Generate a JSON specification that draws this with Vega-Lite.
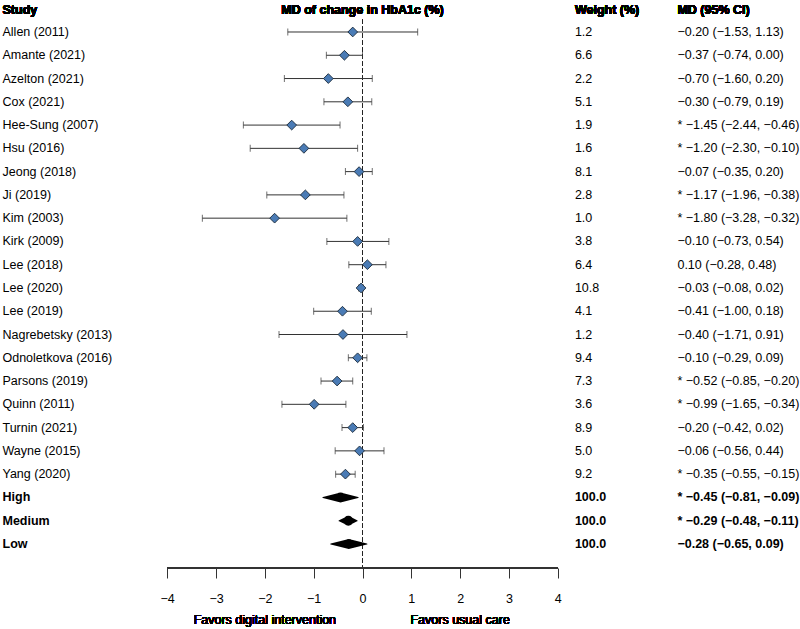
{
  "$schema": "https://vega.github.io/schema/vega-lite/v6.json",
  "width": 800,
  "height": 629,
  "autosize": {"type": "fit", "contains": "padding"},
  "padding": 0,
  "background": "#ffffff",
  "config": {
    "view": {"stroke": null},
    "font": "Liberation Sans",
    "text": {"font": "Liberation Sans", "fontSize": 12.5, "color": "#000000", "baseline": "middle"}
  },
  "data": {
    "values": [
      {"study": "Allen (2011)", "row": 0, "w": 1.2, "est": -0.20, "lo": -1.53, "hi": 1.13, "ci": "−0.20 (−1.53, 1.13)", "kind": "study"},
      {"study": "Amante (2021)", "row": 1, "w": 6.6, "est": -0.37, "lo": -0.74, "hi": 0.00, "ci": "−0.37 (−0.74, 0.00)", "kind": "study"},
      {"study": "Azelton (2021)", "row": 2, "w": 2.2, "est": -0.70, "lo": -1.60, "hi": 0.20, "ci": "−0.70 (−1.60, 0.20)", "kind": "study"},
      {"study": "Cox (2021)", "row": 3, "w": 5.1, "est": -0.30, "lo": -0.79, "hi": 0.19, "ci": "−0.30 (−0.79, 0.19)", "kind": "study"},
      {"study": "Hee-Sung (2007)", "row": 4, "w": 1.9, "est": -1.45, "lo": -2.44, "hi": -0.46, "ci": "* −1.45 (−2.44, −0.46)", "kind": "study"},
      {"study": "Hsu (2016)", "row": 5, "w": 1.6, "est": -1.20, "lo": -2.30, "hi": -0.10, "ci": "* −1.20 (−2.30, −0.10)", "kind": "study"},
      {"study": "Jeong (2018)", "row": 6, "w": 8.1, "est": -0.07, "lo": -0.35, "hi": 0.20, "ci": "−0.07 (−0.35, 0.20)", "kind": "study"},
      {"study": "Ji (2019)", "row": 7, "w": 2.8, "est": -1.17, "lo": -1.96, "hi": -0.38, "ci": "* −1.17 (−1.96, −0.38)", "kind": "study"},
      {"study": "Kim (2003)", "row": 8, "w": 1.0, "est": -1.80, "lo": -3.28, "hi": -0.32, "ci": "* −1.80 (−3.28, −0.32)", "kind": "study"},
      {"study": "Kirk (2009)", "row": 9, "w": 3.8, "est": -0.10, "lo": -0.73, "hi": 0.54, "ci": "−0.10 (−0.73, 0.54)", "kind": "study"},
      {"study": "Lee (2018)", "row": 10, "w": 6.4, "est": 0.10, "lo": -0.28, "hi": 0.48, "ci": "0.10 (−0.28, 0.48)", "kind": "study"},
      {"study": "Lee (2020)", "row": 11, "w": 10.8, "est": -0.03, "lo": -0.08, "hi": 0.02, "ci": "−0.03 (−0.08, 0.02)", "kind": "study"},
      {"study": "Lee (2019)", "row": 12, "w": 4.1, "est": -0.41, "lo": -1.00, "hi": 0.18, "ci": "−0.41 (−1.00, 0.18)", "kind": "study"},
      {"study": "Nagrebetsky (2013)", "row": 13, "w": 1.2, "est": -0.40, "lo": -1.71, "hi": 0.91, "ci": "−0.40 (−1.71, 0.91)", "kind": "study"},
      {"study": "Odnoletkova (2016)", "row": 14, "w": 9.4, "est": -0.10, "lo": -0.29, "hi": 0.09, "ci": "−0.10 (−0.29, 0.09)", "kind": "study"},
      {"study": "Parsons (2019)", "row": 15, "w": 7.3, "est": -0.52, "lo": -0.85, "hi": -0.20, "ci": "* −0.52 (−0.85, −0.20)", "kind": "study"},
      {"study": "Quinn (2011)", "row": 16, "w": 3.6, "est": -0.99, "lo": -1.65, "hi": -0.34, "ci": "* −0.99 (−1.65, −0.34)", "kind": "study"},
      {"study": "Turnin (2021)", "row": 17, "w": 8.9, "est": -0.20, "lo": -0.42, "hi": 0.02, "ci": "−0.20 (−0.42, 0.02)", "kind": "study"},
      {"study": "Wayne (2015)", "row": 18, "w": 5.0, "est": -0.06, "lo": -0.56, "hi": 0.44, "ci": "−0.06 (−0.56, 0.44)", "kind": "study"},
      {"study": "Yang (2020)", "row": 19, "w": 9.2, "est": -0.35, "lo": -0.55, "hi": -0.15, "ci": "* −0.35 (−0.55, −0.15)", "kind": "study"},
      {"study": "High", "row": 20, "w": 100.0, "est": -0.45, "lo": -0.81, "hi": -0.09, "ci": "* −0.45 (−0.81, −0.09)", "kind": "summary"},
      {"study": "Medium", "row": 21, "w": 100.0, "est": -0.29, "lo": -0.48, "hi": -0.11, "ci": "* −0.29 (−0.48, −0.11)", "kind": "summary"},
      {"study": "Low", "row": 22, "w": 100.0, "est": -0.28, "lo": -0.65, "hi": 0.09, "ci": "−0.28 (−0.65, 0.09)", "kind": "summary"}
    ]
  },
  "encoding": {
    "y": {"field": "row", "type": "quantitative", "scale": {"domain": [-1.375, 25.655], "reverse": true, "nice": false, "zero": false}, "axis": null}
  },
  "layer": [
    {
      "mark": {"type": "rule", "color": "#222222", "strokeWidth": 1, "strokeDash": [4, 3]},
      "encoding": {
        "x": {"datum": 0, "type": "quantitative", "scale": {"domain": [-7.424, 8.96], "nice": false, "zero": false},
          "axis": {"values": [-4, -3, -2, -1, 0, 1, 2, 3, 4], "domain": false, "grid": false, "ticks": true, "tickSize": 10, "tickColor": "#333333", "tickWidth": 1, "labelFontSize": 12.5, "labelColor": "#000000", "labelPadding": 14, "labelFont": "Liberation Sans", "labelFlush": false, "title": null, "offset": -61, "orient": "bottom"}},
        "y": {"datum": -0.52, "type": "quantitative"},
        "y2": {"datum": 23.03}
      }
    },
    {
      "mark": {"type": "rule", "color": "#333333", "strokeWidth": 1},
      "encoding": {
        "x": {"datum": -4, "type": "quantitative"},
        "x2": {"datum": 4},
        "y": {"datum": 23.034, "type": "quantitative"}
      }
    },
    {
      "transform": [{"filter": "datum.kind === 'study'"}],
      "mark": {"type": "rule", "color": "#333333", "strokeWidth": 1},
      "encoding": {
        "x": {"field": "lo", "type": "quantitative"},
        "x2": {"field": "hi"}
      }
    },
    {
      "transform": [{"filter": "datum.kind === 'study'"}],
      "mark": {"type": "tick", "orient": "vertical", "color": "#333333", "size": 7, "thickness": 1},
      "encoding": {"x": {"field": "lo", "type": "quantitative"}}
    },
    {
      "transform": [{"filter": "datum.kind === 'study'"}],
      "mark": {"type": "tick", "orient": "vertical", "color": "#333333", "size": 7, "thickness": 1},
      "encoding": {"x": {"field": "hi", "type": "quantitative"}}
    },
    {
      "transform": [{"filter": "datum.kind === 'study'"}],
      "mark": {"type": "point", "shape": "diamond", "filled": true, "size": 95, "fill": "#4a7bb5", "stroke": "#1b2a3a", "strokeWidth": 0.9, "opacity": 1},
      "encoding": {"x": {"field": "est", "type": "quantitative"}}
    },
    {
      "transform": [{"filter": "datum.kind === 'summary'"}, {"fold": ["lo", "est", "hi"], "as": ["part", "xv"]}],
      "mark": {"type": "trail", "color": "#000000"},
      "encoding": {
        "x": {"field": "xv", "type": "quantitative"},
        "size": {"field": "part", "type": "nominal", "scale": {"type": "ordinal", "domain": ["lo", "est", "hi"], "range": [0, 10, 0]}, "legend": null},
        "detail": {"field": "study"},
        "order": {"field": "xv", "type": "quantitative"}
      }
    },
    {
      "transform": [{"filter": "datum.kind === 'study'"}],
      "mark": {"type": "text", "align": "left"},
      "encoding": {"x": {"datum": -7.373, "type": "quantitative"}, "text": {"field": "study"}}
    },
    {
      "transform": [{"filter": "datum.kind === 'summary'"}],
      "mark": {"type": "text", "align": "left", "fontWeight": "bold"},
      "encoding": {"x": {"datum": -7.373, "type": "quantitative"}, "text": {"field": "study"}}
    },
    {
      "transform": [{"filter": "datum.kind === 'study'"}],
      "mark": {"type": "text", "align": "left"},
      "encoding": {"x": {"datum": 4.35, "type": "quantitative"}, "text": {"field": "w", "type": "quantitative", "format": ".1f"}}
    },
    {
      "transform": [{"filter": "datum.kind === 'summary'"}],
      "mark": {"type": "text", "align": "left", "fontWeight": "bold"},
      "encoding": {"x": {"datum": 4.35, "type": "quantitative"}, "text": {"field": "w", "type": "quantitative", "format": ".1f"}}
    },
    {
      "transform": [{"filter": "datum.kind === 'study'"}],
      "mark": {"type": "text", "align": "left"},
      "encoding": {"x": {"datum": 6.45, "type": "quantitative"}, "text": {"field": "ci"}}
    },
    {
      "transform": [{"filter": "datum.kind === 'summary'"}],
      "mark": {"type": "text", "align": "left", "fontWeight": "bold"},
      "encoding": {"x": {"datum": 6.45, "type": "quantitative"}, "text": {"field": "ci"}}
    },
    {
      "mark": {"type": "text", "align": "left", "fontWeight": "bold", "text": "Study"},
      "encoding": {"x": {"datum": -7.373, "type": "quantitative"}, "y": {"datum": -0.945, "type": "quantitative"}}
    },
    {
      "mark": {"type": "text", "align": "center", "fontWeight": "bold", "text": "MD of change in HbA1c (%)"},
      "encoding": {"x": {"datum": 0, "type": "quantitative"}, "y": {"datum": -0.945, "type": "quantitative"}}
    },
    {
      "mark": {"type": "text", "align": "left", "fontWeight": "bold", "text": "Weight (%)"},
      "encoding": {"x": {"datum": 4.35, "type": "quantitative"}, "y": {"datum": -0.945, "type": "quantitative"}}
    },
    {
      "mark": {"type": "text", "align": "left", "fontWeight": "bold", "text": "MD (95% CI)"},
      "encoding": {"x": {"datum": 6.45, "type": "quantitative"}, "y": {"datum": -0.945, "type": "quantitative"}}
    },
    {
      "mark": {"type": "text", "align": "center", "text": "Favors digital intervention"},
      "encoding": {"x": {"datum": -2, "type": "quantitative"}, "y": {"datum": 25.27, "type": "quantitative"}}
    },
    {
      "mark": {"type": "text", "align": "center", "text": "Favors usual care"},
      "encoding": {"x": {"datum": 2, "type": "quantitative"}, "y": {"datum": 25.27, "type": "quantitative"}}
    }
  ]
}
